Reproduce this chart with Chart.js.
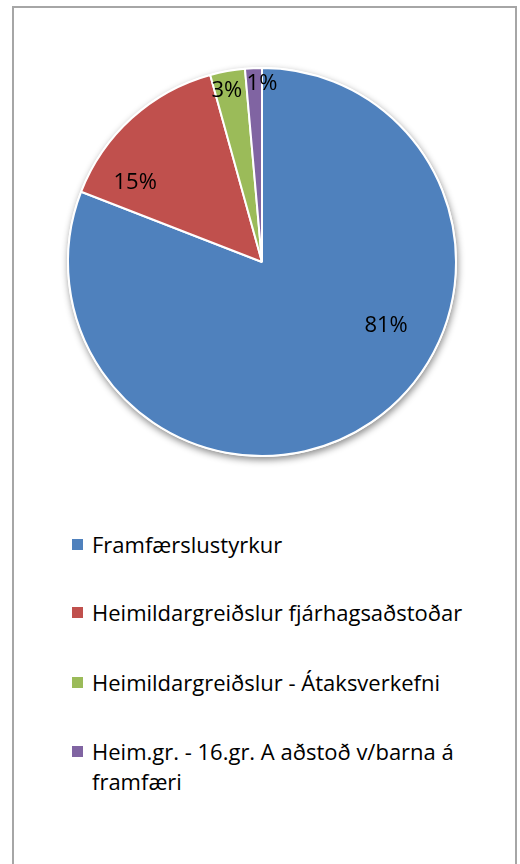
<!DOCTYPE html>
<html>
<head>
<meta charset="utf-8">
<script src="https://cdn.jsdelivr.net/npm/chart.js@4"></script>
<style>
  html, body { margin: 0; padding: 0; background: #fff; width: 520px; height: 864px; overflow: hidden; }
  #frame { position: absolute; left: 12px; top: 6px; width: 501px; height: 900px; border: 2px solid #a6a6a6; box-sizing: content-box; }
  #wrap { position: absolute; left: 0; top: 0; width: 520px; height: 520px; }
  #legend { position: absolute; left: 72px; top: 0; width: 420px; font-family: "Open Sans", sans-serif; font-size: 22px; color: #000; }
  .item { position: absolute; left: 0; width: 420px; line-height: 30px; }
  .sw { position: absolute; left: 0; width: 11px; height: 11px; }
  .txt { position: absolute; left: 20px; width: 385px; }
</style>
</head>
<body>
<div id="frame"></div>
<div id="wrap"><canvas id="c" width="520" height="520"></canvas></div>
<div id="legend"></div>
<script>
const categories = [
  "Framfærslustyrkur",
  "Heimildargreiðslur fjárhagsaðstoðar",
  "Heimildargreiðslur - Átaksverkefni",
  "Heim.gr. - 16.gr. A aðstoð v/barna á framfæri"
];
const values = [80.9, 14.8, 2.9, 1.4];
const colors = ["#4F81BD", "#C0504D", "#9BBB59", "#8064A2"];

// label placement (angle from top clockwise in degrees, fraction of radius)
const labelPlacement = [[117.3, 0.72], [301.9, 0.77], [348.4, 0.90], [0, 0.92]];
// legend row tops (px)
const legendRowTops = [529, 597, 667, 736];

const total = values.reduce((a, b) => a + b, 0);

const shadowPlugin = {
  id: 'pieShadow',
  beforeDatasetsDraw(chart) {
    const arc = chart.getDatasetMeta(0).data[0];
    if (!arc) return;
    const { x, y, outerRadius } = arc.getProps(['x', 'y', 'outerRadius'], true);
    const ctx = chart.ctx;
    ctx.save();
    ctx.shadowColor = 'rgba(0,0,0,0.45)';
    ctx.shadowBlur = 7;
    ctx.shadowOffsetX = 1;
    ctx.shadowOffsetY = 3;
    ctx.beginPath();
    ctx.arc(x, y, outerRadius + 1, 0, Math.PI * 2);
    ctx.fillStyle = '#ffffff';
    ctx.fill();
    ctx.restore();
  }
};

const labelPlugin = {
  id: 'pctLabels',
  afterDatasetsDraw(chart) {
    const meta = chart.getDatasetMeta(0);
    const ctx = chart.ctx;
    ctx.save();
    ctx.font = '22px "Open Sans", sans-serif';
    ctx.fillStyle = '#000';
    ctx.textAlign = 'center';
    ctx.textBaseline = 'middle';
    meta.data.forEach((arc, i) => {
      const { x, y, outerRadius } = arc.getProps(['x', 'y', 'outerRadius'], true);
      const [deg, f] = labelPlacement[i];
      const a = deg * Math.PI / 180;
      const px = x + Math.sin(a) * outerRadius * f;
      const py = y - Math.cos(a) * outerRadius * f;
      const pct = Math.round(values[i] / total * 100) + '%';
      ctx.fillText(pct, px, py);
    });
    ctx.restore();
  }
};

new Chart(document.getElementById('c'), {
  type: 'pie',
  data: {
    labels: categories,
    datasets: [{
      data: values,
      backgroundColor: colors,
      borderColor: '#ffffff',
      borderWidth: 2
    }]
  },
  options: {
    responsive: false,
    animation: false,
    radius: 194,
    layout: { padding: { left: 68, top: 68, right: 64, bottom: 64 } },
    plugins: { legend: { display: false }, tooltip: { enabled: false } }
  },
  plugins: [shadowPlugin, labelPlugin]
});

const legend = document.getElementById('legend');
categories.forEach((name, i) => {
  const item = document.createElement('div');
  item.className = 'item';
  item.style.top = legendRowTops[i] + 'px';
  const sw = document.createElement('div');
  sw.className = 'sw';
  sw.style.background = colors[i];
  sw.style.top = '10px';
  const t = document.createElement('div');
  t.className = 'txt';
  t.textContent = name;
  item.appendChild(sw);
  item.appendChild(t);
  legend.appendChild(item);
});
</script>
</body>
</html>
